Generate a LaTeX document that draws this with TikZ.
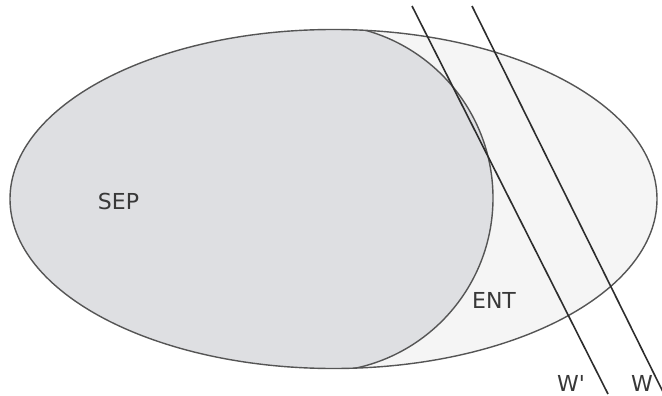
\documentclass[tikz,border=0pt]{standalone}
\usepackage{fontspec}
\setmainfont{DejaVu Sans}
\definecolor{sepfill}{RGB}{222,223,226}
\definecolor{entfill}{RGB}{245,245,245}
\definecolor{edge}{RGB}{85,85,85}
\definecolor{wline}{RGB}{45,45,45}
\tikzset{
  lbl/.style={font=\fontsize{22}{24}\selectfont, text=black!78, inner sep=0pt},
  rim/.style={draw=edge, line width=1.4pt},
  wl/.style={draw=wline, line width=1.6pt},
}
\begin{document}
\begin{tikzpicture}[x=1pt,y=-1pt]
\useasboundingbox (0,0) rectangle (662,396);
% outer ellipse fill
\fill[entfill] (333.5,199) ellipse [x radius=323.5, y radius=169.5];
% SEP region
\begin{scope}
  \clip (333.5,199) ellipse [x radius=323.5, y radius=169.5];
  \fill[sepfill] (319,24) arc [start angle=-90, end angle=90, radius=174]
     -- (0,372) -- (0,24) -- cycle;
  \draw[rim] (319,24) arc [start angle=-90, end angle=90, radius=174];
\end{scope}
\draw[rim] (333.5,199) ellipse [x radius=323.5, y radius=169.5];
% lines
\coordinate (wpt) at (412,6);
\coordinate (wpb) at (608,394);
\coordinate (wt) at (472,6);
\coordinate (wb) at (665,396);
\draw[wl] (wpt) -- (wpb);
\draw[wl] (wt) -- (wb);
% labels
\node[lbl] (sep) at (118.5,201.5) {SEP};
\node[lbl] (ent) at (494,300.5) {ENT};
\node[lbl] (wp) at (571,383) {W\textquotesingle};
\node[lbl] (w) at (642,383) {W};
\end{tikzpicture}
\end{document}
